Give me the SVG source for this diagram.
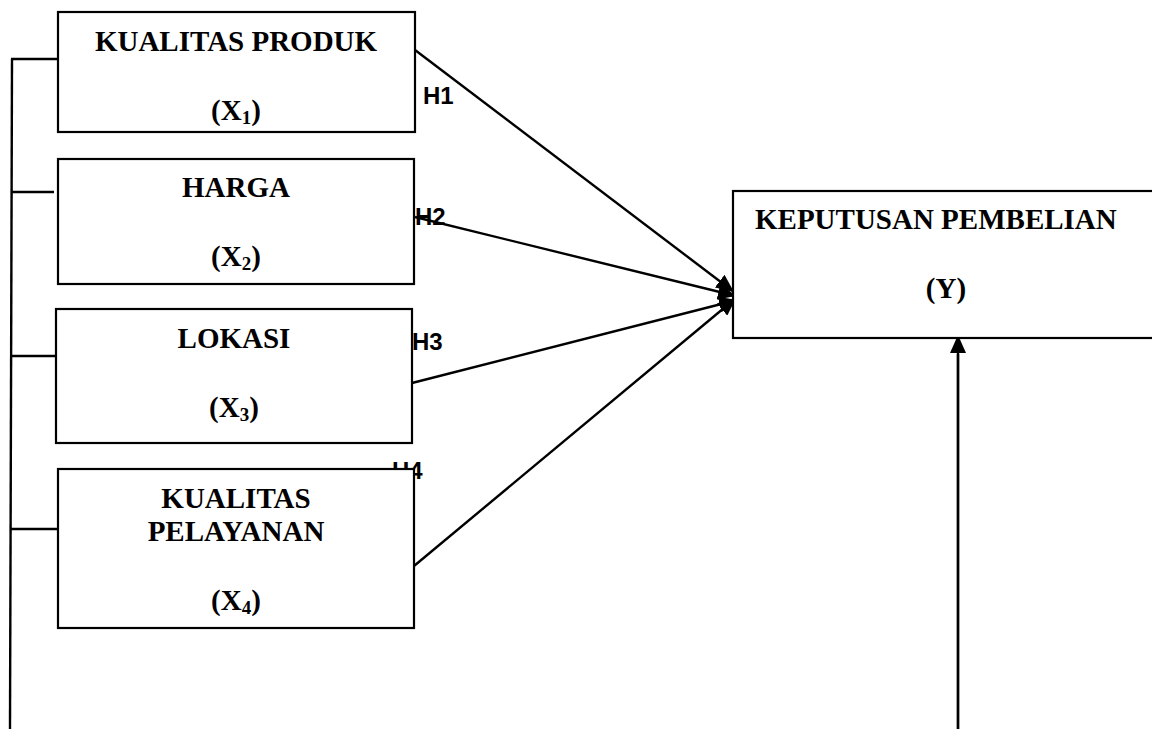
<svg xmlns="http://www.w3.org/2000/svg" width="1152" height="729" viewBox="0 0 1152 729">
  <style>
    .box { fill: #ffffff; stroke: #000000; stroke-width: 2.2; }
    .ln { fill: none; stroke: #000000; stroke-width: 2.4; }
    .t { font-family: "Liberation Serif", "Times New Roman", serif; font-weight: bold; font-size: 29px; fill: #000000; }
    .sub { font-size: 19px; }
    .h { font-family: "Liberation Sans", Arial, sans-serif; font-weight: bold; font-size: 24px; fill: #000000; }
  </style>
  <defs>
    <marker id="arr" markerUnits="userSpaceOnUse" markerWidth="20" markerHeight="16" refX="18" refY="8" orient="auto">
      <path d="M0,0 L18,8 L0,16 z" fill="#000000"/>
    </marker>
  </defs>
  <rect width="1152" height="729" fill="#ffffff"/>

  <g id="labels">
    <text class="h" x="423" y="104">H1</text>
    <text class="h" x="415" y="225">H2</text>
    <text class="h" x="412" y="350">H3</text>
    <text class="h" x="392" y="479">H4</text>
  </g>

  <g id="connectors">
    <path class="ln" d="M12,59 L10,729"/>
    <path class="ln" d="M11,59 L58,59"/>
    <path class="ln" d="M11,192 L54,192"/>
    <path class="ln" d="M11,356 L56,356"/>
    <path class="ln" d="M11,529 L58,529"/>
    <path class="ln" d="M415,50 L734,292" marker-end="url(#arr)"/>
    <path class="ln" d="M415,217 L736,296" marker-end="url(#arr)"/>
    <path class="ln" d="M412,383 L737,300" marker-end="url(#arr)"/>
    <path class="ln" d="M414,566 L736,298" marker-end="url(#arr)"/>
    <path class="ln" d="M958,729 L958,335" marker-end="url(#arr)"/>
  </g>

  <g id="node-x1">
    <rect class="box" x="58" y="12" width="357" height="120"/>
    <text class="t" x="236" y="51" text-anchor="middle">KUALITAS PRODUK</text>
    <text class="t" x="236" y="120" text-anchor="middle">(X<tspan class="sub" dy="4">1</tspan><tspan dy="-4">)</tspan></text>
  </g>

  <g id="node-x2">
    <rect class="box" x="58" y="159" width="356" height="125"/>
    <text class="t" x="236" y="197" text-anchor="middle">HARGA</text>
    <text class="t" x="236" y="266" text-anchor="middle">(X<tspan class="sub" dy="4">2</tspan><tspan dy="-4">)</tspan></text>
  </g>

  <g id="node-x3">
    <rect class="box" x="56" y="309" width="356" height="134"/>
    <text class="t" x="234" y="348" text-anchor="middle">LOKASI</text>
    <text class="t" x="234" y="417" text-anchor="middle">(X<tspan class="sub" dy="4">3</tspan><tspan dy="-4">)</tspan></text>
  </g>

  <g id="node-x4">
    <rect class="box" x="58" y="469" width="356" height="159"/>
    <text class="t" x="236" y="508" text-anchor="middle">KUALITAS</text>
    <text class="t" x="236" y="541" text-anchor="middle">PELAYANAN</text>
    <text class="t" x="236" y="610" text-anchor="middle">(X<tspan class="sub" dy="4">4</tspan><tspan dy="-4">)</tspan></text>
  </g>

  <g id="node-y">
    <rect class="box" x="733" y="191" width="430" height="147"/>
    <text class="t" x="755" y="229">KEPUTUSAN PEMBELIAN</text>
    <text class="t" x="946" y="298" text-anchor="middle">(Y)</text>
  </g>

  <path class="ln" d="M958,729 L958,354"/>
</svg>
